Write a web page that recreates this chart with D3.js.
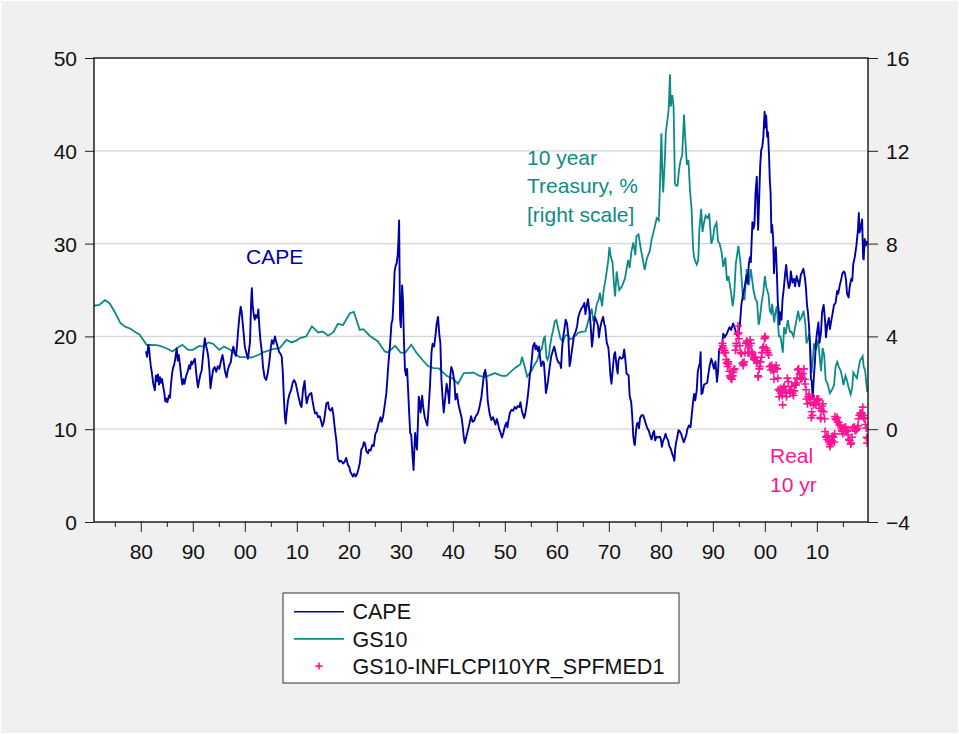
<!DOCTYPE html>
<html>
<head>
<meta charset="utf-8">
<script src="https://cdn.jsdelivr.net/npm/d3@7"></script>
<style>
body { margin: 0; background: #fff; }
svg { display: block; font-family: "Liberation Sans", Arial, sans-serif; }
.axis path { display: none; }
.axis line { stroke: #222; }
.axis text { font-size: 21px; fill: #111; }
</style>
</head>
<body>
<svg width="959" height="734"></svg>
<script>

// CAPE (left scale), [year, value]
var cape = [
[1881.0,18.4],[1881.2,17.8],[1881.45,19.1],[1881.6,18.6],[1881.9,16.9],[1882.1,16.2],[1882.4,14.9],[1882.7,14.2],
[1882.9,15.8],[1883.1,15.2],[1883.3,15.9],[1883.5,14.8],[1883.7,15.6],[1883.9,15.0],[1884.1,15.4],[1884.3,14.6],
[1884.5,14.0],[1884.7,13.0],[1884.9,13.3],[1885.1,12.9],[1885.4,13.6],[1885.6,13.4],[1885.8,14.8],[1886.0,15.9],
[1886.2,16.6],[1886.4,16.9],[1886.6,17.5],[1886.9,18.7],[1887.1,17.4],[1887.3,18.0],[1887.5,17.1],[1887.8,15.5],
[1888.0,14.8],[1888.2,15.4],[1888.4,14.9],[1888.7,15.7],[1889.0,16.2],[1889.3,16.9],[1889.5,16.5],[1889.7,17.3],
[1889.9,17.0],[1890.2,17.4],[1890.4,17.6],[1890.6,16.4],[1890.8,15.3],[1891.0,14.5],[1891.2,15.2],[1891.5,16.0],
[1891.7,16.3],[1892.0,18.1],[1892.3,19.8],[1892.5,19.1],[1892.8,18.4],[1893.0,17.7],[1893.2,16.3],[1893.4,14.4],
[1893.6,15.3],[1893.9,16.4],[1894.2,16.7],[1894.5,16.2],[1894.8,16.8],[1895.1,16.5],[1895.4,17.3],[1895.7,18.0],
[1895.9,17.4],[1896.2,16.2],[1896.5,15.6],[1896.7,16.3],[1897.0,16.9],[1897.3,17.2],[1897.6,18.5],[1897.8,18.9],
[1898.1,18.1],[1898.3,17.9],[1898.5,19.0],[1898.7,20.5],[1898.9,21.8],[1899.2,23.2],[1899.4,22.6],[1899.6,21.4],
[1899.8,20.2],[1900.0,18.9],[1900.3,18.2],[1900.6,17.6],[1900.8,18.5],[1901.0,19.4],[1901.2,23.5],[1901.35,25.2],
[1901.5,23.4],[1901.7,22.4],[1901.9,21.8],[1902.1,22.3],[1902.4,22.0],[1902.6,22.9],[1902.8,21.0],[1903.0,19.6],
[1903.3,18.2],[1903.5,16.7],[1903.8,15.6],[1904.1,15.3],[1904.4,16.0],[1904.7,17.2],[1905.0,18.8],[1905.2,19.6],
[1905.5,19.2],[1905.8,20.0],[1906.0,19.5],[1906.3,18.9],[1906.6,18.3],[1906.9,18.1],[1907.1,17.8],[1907.3,16.2],
[1907.5,13.5],[1907.7,11.4],[1907.85,10.6],[1908.0,11.5],[1908.3,13.1],[1908.6,13.8],[1908.9,14.2],[1909.2,15.0],
[1909.5,15.3],[1909.8,14.9],[1910.1,14.1],[1910.4,13.3],[1910.7,12.6],[1910.9,12.4],[1911.2,14.3],[1911.5,15.2],
[1911.7,13.7],[1911.9,12.8],[1912.2,13.5],[1912.5,13.8],[1912.8,13.9],[1913.0,13.1],[1913.3,12.2],[1913.5,11.7],
[1913.8,11.8],[1914.1,11.3],[1914.4,11.4],[1914.7,10.8],[1914.9,10.3],[1915.2,10.8],[1915.5,12.0],[1915.7,12.8],
[1916.0,12.9],[1916.2,12.2],[1916.5,12.0],[1916.8,12.3],[1917.0,11.7],[1917.3,10.1],[1917.6,8.8],[1917.9,6.8],
[1918.2,6.5],[1918.5,6.6],[1918.9,6.3],[1919.2,6.5],[1919.5,6.9],[1919.8,6.2],[1920.1,5.9],[1920.3,5.4],
[1920.6,5.1],[1920.8,4.9],[1921.0,5.2],[1921.3,4.9],[1921.6,5.2],[1921.8,5.6],[1922.1,6.3],[1922.4,7.8],
[1922.7,8.1],[1922.9,8.6],[1923.1,8.5],[1923.4,7.6],[1923.7,7.4],[1923.9,7.8],[1924.2,7.7],[1924.5,8.3],
[1924.8,8.2],[1925.1,9.5],[1925.4,9.8],[1925.7,10.6],[1925.9,10.9],[1926.1,11.3],[1926.3,10.8],[1926.6,11.4],
[1926.9,12.6],[1927.2,13.8],[1927.4,15.3],[1927.6,17.0],[1927.9,18.9],[1928.2,21.4],[1928.4,21.8],[1928.6,24.0],
[1928.8,27.0],[1929.0,27.6],[1929.2,27.9],[1929.4,28.8],[1929.55,30.5],[1929.67,32.5],[1929.75,27.5],[1929.85,22.0],
[1930.0,21.0],[1930.25,25.5],[1930.4,24.0],[1930.6,19.5],[1930.8,16.4],[1931.0,15.8],[1931.2,16.5],[1931.4,14.2],
[1931.6,11.8],[1931.8,9.6],[1932.0,9.4],[1932.2,7.5],[1932.45,5.6],[1932.6,7.9],[1932.75,9.6],[1932.9,8.5],
[1933.1,7.8],[1933.3,10.8],[1933.45,13.5],[1933.6,13.1],[1933.8,11.8],[1934.1,13.6],[1934.3,12.4],[1934.6,11.3],
[1934.8,10.9],[1935.1,10.4],[1935.3,11.9],[1935.6,14.6],[1935.9,18.3],[1936.1,19.2],[1936.4,18.9],[1936.7,20.3],
[1936.9,21.4],[1937.15,22.1],[1937.4,20.2],[1937.6,19.3],[1937.8,15.4],[1938.0,13.6],[1938.25,11.8],[1938.5,13.2],
[1938.8,14.9],[1939.1,13.9],[1939.3,12.8],[1939.5,15.7],[1939.7,16.7],[1940.0,16.2],[1940.3,15.1],[1940.5,13.2],
[1940.8,13.8],[1941.1,12.6],[1941.4,11.9],[1941.7,11.2],[1941.9,10.3],[1942.1,9.2],[1942.3,8.5],[1942.6,9.2],
[1942.9,9.9],[1943.2,10.6],[1943.5,11.4],[1943.8,10.8],[1944.1,10.9],[1944.4,11.4],[1944.8,11.7],[1945.1,12.3],
[1945.5,13.5],[1945.8,15.0],[1946.0,16.0],[1946.25,16.4],[1946.5,15.2],[1946.7,13.1],[1946.9,12.3],[1947.1,11.6],
[1947.4,11.0],[1947.7,11.3],[1947.9,11.0],[1948.2,10.5],[1948.45,11.1],[1948.7,10.6],[1948.9,10.0],[1949.2,9.6],
[1949.45,9.1],[1949.7,9.6],[1950.0,10.3],[1950.3,10.7],[1950.5,10.2],[1950.7,11.0],[1951.0,11.8],[1951.3,12.1],
[1951.6,12.0],[1951.9,12.4],[1952.2,12.2],[1952.5,12.5],[1952.8,12.4],[1953.0,12.9],[1953.3,11.9],[1953.7,11.2],
[1953.9,11.6],[1954.2,12.6],[1954.4,13.5],[1954.6,14.5],[1954.8,15.8],[1955.0,16.5],[1955.2,17.6],[1955.4,18.9],
[1955.7,19.3],[1955.9,18.6],[1956.1,19.0],[1956.4,18.4],[1956.6,18.9],[1956.8,17.6],[1957.0,16.8],[1957.3,17.3],
[1957.5,17.2],[1957.7,15.7],[1957.9,13.9],[1958.1,14.5],[1958.3,15.2],[1958.6,16.6],[1958.9,17.8],[1959.2,18.4],
[1959.5,18.9],[1959.7,18.4],[1960.0,17.6],[1960.3,17.2],[1960.6,17.1],[1960.8,16.6],[1961.0,18.6],[1961.2,19.9],
[1961.4,20.6],[1961.7,21.8],[1961.95,21.4],[1962.2,20.1],[1962.45,16.8],[1962.6,17.2],[1962.8,18.1],[1963.0,18.9],
[1963.3,20.1],[1963.6,20.5],[1963.9,21.1],[1964.1,22.0],[1964.4,22.6],[1964.7,23.0],[1965.0,23.2],[1965.3,23.6],
[1965.5,22.4],[1965.8,23.5],[1966.0,24.0],[1966.2,23.0],[1966.5,21.2],[1966.75,18.9],[1966.9,19.6],[1967.1,21.0],
[1967.3,22.1],[1967.6,21.7],[1967.9,21.2],[1968.1,19.9],[1968.3,20.8],[1968.6,21.6],[1968.9,22.1],[1969.1,21.4],
[1969.3,21.0],[1969.6,19.3],[1969.9,18.8],[1970.1,17.5],[1970.3,15.8],[1970.5,14.9],[1970.7,16.1],[1971.0,18.0],
[1971.2,18.3],[1971.5,16.7],[1971.7,16.0],[1971.85,17.4],[1972.1,17.8],[1972.4,17.6],[1972.7,17.7],[1972.95,18.6],
[1973.2,17.3],[1973.4,16.0],[1973.6,15.9],[1973.8,15.8],[1974.0,13.6],[1974.3,12.9],[1974.5,11.4],[1974.7,9.2],
[1974.9,8.4],[1975.0,8.3],[1975.2,9.7],[1975.4,10.6],[1975.6,10.7],[1975.8,10.1],[1976.0,11.2],[1976.3,11.5],
[1976.6,11.5],[1976.9,11.0],[1977.1,10.6],[1977.4,10.1],[1977.7,9.8],[1977.9,9.4],[1978.2,8.9],[1978.5,9.6],
[1978.7,9.8],[1978.9,8.8],[1979.2,9.2],[1979.5,9.1],[1979.8,9.2],[1980.0,8.9],[1980.2,8.1],[1980.4,8.7],
[1980.7,9.1],[1980.9,9.5],[1981.1,9.1],[1981.4,8.8],[1981.6,8.2],[1981.9,7.9],[1982.1,7.5],[1982.4,7.0],
[1982.6,6.6],[1982.75,7.8],[1982.9,8.5],[1983.1,9.0],[1983.4,9.9],[1983.6,9.8],[1983.9,9.5],[1984.1,9.1],
[1984.4,8.6],[1984.6,8.9],[1984.9,9.4],[1985.1,10.0],[1985.4,10.4],[1985.7,10.2],[1985.9,11.3],[1986.2,13.0],
[1986.4,13.8],[1986.6,13.1],[1986.9,14.2],[1987.1,16.2],[1987.3,16.7],[1987.5,17.1],[1987.65,18.3],[1987.8,13.8],
[1988.0,13.9],[1988.3,14.8],[1988.6,14.9],[1988.9,15.0],[1989.1,15.8],[1989.4,16.9],[1989.7,17.6],[1989.9,17.2],
[1990.2,16.5],[1990.5,17.3],[1990.8,15.1],[1991.0,16.3],[1991.2,18.6],[1991.5,18.8],[1991.8,19.1],[1992.0,20.3],
[1992.3,19.9],[1992.6,20.2],[1992.9,20.6],[1993.2,21.0],[1993.5,20.7],[1993.9,21.4],[1994.2,20.9],[1994.6,20.1],
[1994.9,20.3],[1995.2,21.3],[1995.5,23.5],[1995.8,24.5],[1996.1,25.3],[1996.5,26.6],[1996.7,25.7],[1996.9,27.7],
[1997.1,28.5],[1997.3,28.0],[1997.6,32.3],[1997.8,31.6],[1998.0,32.1],[1998.2,35.5],[1998.45,37.2],[1998.7,31.5],
[1998.9,34.8],[1999.1,38.4],[1999.3,40.1],[1999.5,40.4],[1999.7,41.5],[1999.95,44.2],[2000.1,42.5],[2000.25,43.8],
[2000.45,41.5],[2000.6,42.0],[2000.8,39.5],[2000.95,36.8],[2001.1,35.5],[2001.25,31.2],[2001.4,32.0],[2001.6,30.5],
[2001.75,26.8],[2001.9,28.9],[2002.1,29.6],[2002.3,27.0],[2002.5,23.5],[2002.7,22.5],[2002.8,21.3],[2003.0,22.6],
[2003.2,21.8],[2003.4,24.0],[2003.7,25.5],[2003.9,26.8],[2004.1,27.7],[2004.3,26.3],[2004.6,25.2],[2004.8,25.5],
[2005.0,27.0],[2005.3,25.8],[2005.6,26.2],[2005.8,25.4],[2006.1,26.5],[2006.4,25.9],[2006.6,25.4],[2006.9,26.6],
[2007.2,27.0],[2007.4,27.3],[2007.7,26.3],[2007.9,25.2],[2008.1,23.4],[2008.3,22.5],[2008.5,21.0],[2008.7,18.5],
[2008.85,15.4],[2009.0,15.2],[2009.2,13.3],[2009.4,15.5],[2009.6,17.0],[2009.8,19.2],[2010.0,20.3],[2010.3,21.5],
[2010.5,19.3],[2010.8,20.5],[2011.0,22.6],[2011.3,23.4],[2011.6,21.5],[2011.75,19.9],[2012.0,21.2],[2012.3,22.0],
[2012.5,20.8],[2012.8,21.8],[2013.0,22.4],[2013.3,23.4],[2013.6,23.6],[2013.9,24.9],[2014.1,24.6],[2014.4,25.5],
[2014.7,26.2],[2014.9,26.8],[2015.2,27.0],[2015.4,26.8],[2015.6,26.1],[2015.8,24.6],[2016.1,24.2],[2016.3,25.3],
[2016.6,26.2],[2016.8,26.0],[2017.0,27.8],[2017.3,28.6],[2017.6,29.8],[2017.9,31.5],[2018.07,33.3],[2018.2,31.2],
[2018.4,31.6],[2018.7,32.6],[2018.9,28.4],[2019.0,28.3],[2019.2,30.5],[2019.4,29.8],[2019.6,30.0],[2019.75,30.3]
];

// GS10 (right scale), [year, percent]
var gs10 = [
[1871.0,5.32],[1872.0,5.36],[1873.1,5.56],[1874.0,5.43],[1875.0,5.05],[1876.1,4.57],[1877.0,4.42],[1878.0,4.33],
[1879.0,4.18],[1879.8,4.07],[1881.1,3.64],[1882.0,3.63],[1883.0,3.62],[1883.7,3.59],[1884.9,3.49],[1886.1,3.35],
[1887.0,3.50],[1888.0,3.64],[1889.1,3.42],[1890.0,3.42],[1891.2,3.59],[1892.0,3.56],[1893.0,3.74],[1893.9,3.68],
[1895.1,3.42],[1896.0,3.56],[1897.0,3.45],[1897.8,3.31],[1899.0,3.11],[1900.0,3.11],[1901.3,3.09],[1902.4,3.18],
[1903.5,3.31],[1905.4,3.45],[1906.7,3.49],[1908.0,3.85],[1909.0,3.74],[1910.0,3.83],[1910.6,3.93],[1911.8,4.00],
[1912.9,4.43],[1914.1,4.17],[1915.0,4.21],[1916.0,4.03],[1917.0,4.17],[1917.9,4.54],[1918.9,4.49],[1920.2,5.00],
[1920.96,5.06],[1922.1,4.28],[1922.8,4.31],[1924.0,4.03],[1925.6,3.78],[1926.9,3.35],[1927.5,3.31],[1928.9,3.59],
[1930.0,3.29],[1930.9,3.31],[1932.0,3.64],[1933.0,3.30],[1934.3,2.95],[1935.2,2.72],[1936.3,2.63],[1937.3,2.62],
[1938.8,2.30],[1940.0,2.18],[1941.0,1.96],[1942.1,2.42],[1944.0,2.44],[1945.1,2.30],[1946.2,2.25],[1948.1,2.42],
[1949.4,2.30],[1950.3,2.30],[1951.9,2.63],[1953.0,2.80],[1953.3,3.11],[1953.5,2.95],[1953.8,2.71],[1954.3,2.27],
[1954.7,2.40],[1955.1,2.50],[1955.7,2.78],[1956.2,2.95],[1956.7,3.35],[1957.1,3.45],[1957.5,3.93],[1957.7,3.98],
[1958.0,3.10],[1958.2,2.99],[1958.5,3.20],[1958.7,3.60],[1959.0,4.00],[1959.3,4.30],[1959.6,4.64],[1959.9,4.70],
[1960.1,4.50],[1960.4,4.20],[1960.7,3.90],[1960.9,3.85],[1961.2,3.78],[1961.6,4.03],[1961.9,4.06],[1962.2,4.04],
[1962.5,3.88],[1962.9,3.90],[1963.3,4.00],[1963.7,4.05],[1964.0,4.14],[1964.5,4.18],[1965.0,4.21],[1965.5,4.22],
[1965.9,4.55],[1966.2,4.80],[1966.7,5.20],[1967.0,4.65],[1967.3,4.90],[1967.7,5.40],[1968.0,5.55],[1968.3,5.88],
[1968.7,5.30],[1969.0,6.00],[1969.4,6.50],[1969.9,7.30],[1970.1,7.85],[1970.4,7.40],[1970.7,7.20],[1971.0,6.20],
[1971.2,5.72],[1971.5,6.80],[1971.8,6.30],[1972.0,6.00],[1972.5,6.15],[1973.1,6.50],[1973.7,7.30],[1974.0,6.95],
[1974.3,7.60],[1974.7,8.05],[1975.1,7.50],[1975.3,8.31],[1975.7,8.40],[1976.2,7.70],[1976.9,6.87],[1977.3,7.35],
[1977.9,7.70],[1978.2,8.16],[1978.7,8.60],[1979.2,9.10],[1979.6,9.00],[1979.8,10.30],[1980.1,12.76],[1980.3,11.00],
[1980.45,10.20],[1980.8,11.80],[1980.95,12.80],[1981.3,13.40],[1981.5,13.80],[1981.75,15.30],[1981.9,13.90],[1982.2,14.40],
[1982.45,13.90],[1982.7,10.60],[1982.9,10.50],[1983.2,10.50],[1983.5,11.20],[1983.8,11.60],[1984.1,11.80],[1984.45,13.56],
[1984.7,12.50],[1985.0,11.40],[1985.3,11.60],[1985.6,10.30],[1985.9,9.50],[1986.2,7.80],[1986.4,7.40],[1986.7,7.20],
[1986.9,7.10],[1987.2,7.30],[1987.4,8.60],[1987.75,9.50],[1988.0,8.50],[1988.3,8.90],[1988.6,9.20],[1989.0,9.10],
[1989.3,9.30],[1989.7,8.00],[1990.0,8.20],[1990.3,8.70],[1990.7,8.90],[1991.0,8.10],[1991.3,8.00],[1991.7,7.60],
[1992.0,7.00],[1992.4,7.40],[1992.7,6.40],[1993.0,6.60],[1993.5,5.90],[1993.8,5.30],[1994.1,5.80],[1994.4,7.10],
[1994.9,7.90],[1995.3,7.20],[1995.8,5.60],[1996.1,5.60],[1996.5,6.90],[1996.9,6.20],[1997.3,6.90],[1997.8,6.00],
[1998.2,5.60],[1998.5,5.50],[1998.8,4.50],[1999.0,4.70],[1999.4,5.50],[1999.7,5.90],[2000.0,6.60],[2000.3,6.10],
[2000.7,5.80],[2000.95,5.10],[2001.2,5.00],[2001.4,5.40],[2001.8,4.60],[2002.0,5.00],[2002.3,5.30],[2002.7,4.00],
[2003.0,4.00],[2003.45,3.30],[2003.7,4.40],[2004.0,4.10],[2004.4,4.70],[2004.8,4.20],[2005.1,4.20],[2005.5,4.00],
[2005.9,4.50],[2006.4,5.10],[2006.7,4.70],[2007.0,4.80],[2007.45,5.10],[2007.8,4.50],[2008.0,3.70],[2008.3,3.90],
[2008.5,4.10],[2008.7,3.80],[2008.95,2.40],[2009.2,2.90],[2009.45,3.70],[2009.8,3.40],[2010.25,3.85],[2010.5,3.20],
[2010.8,2.50],[2011.1,3.50],[2011.4,3.20],[2011.7,2.10],[2012.0,2.00],[2012.5,1.55],[2012.9,1.70],[2013.3,1.90],
[2013.6,2.70],[2013.9,2.90],[2014.2,2.70],[2014.6,2.50],[2014.9,2.20],[2015.1,1.90],[2015.5,2.30],[2015.8,2.10],
[2016.1,1.80],[2016.5,1.50],[2016.8,1.80],[2017.0,2.45],[2017.4,2.30],[2017.7,2.20],[2018.0,2.60],[2018.3,2.95],
[2018.8,3.15],[2019.0,2.70],[2019.3,2.50],[2019.5,2.00],[2019.7,1.60],[2019.8,1.75]
];

// GS10 less SPF median 10yr CPI inflation expectation (right scale)
var real10 = [
[1991.75,3.4],[1991.83,3.7],[1991.92,3.6],
[1992.0,3.5],[1992.17,3.3],[1992.25,3.4],[1992.42,3.3],[1992.58,3.0],[1992.67,2.85],[1992.83,2.7],[1992.92,2.9],
[1993.0,2.8],[1993.17,2.5],[1993.25,2.3],[1993.42,2.2],[1993.5,2.25],[1993.67,2.15],[1993.83,2.3],[1993.92,2.45],
[1994.0,2.55],[1994.17,2.6],[1994.33,3.4],[1994.5,3.7],[1994.58,3.6],[1994.75,4.1],[1994.83,4.45],[1994.92,4.15],
[1995.0,3.9],[1995.17,3.6],[1995.33,3.3],[1995.5,3.25],[1995.67,2.85],[1995.83,2.75],[1995.92,2.8],
[1996.0,2.9],[1996.17,3.3],[1996.33,3.7],[1996.5,3.8],[1996.58,3.75],[1996.75,3.3],[1996.83,3.5],[1996.92,3.3],
[1997.0,3.6],[1997.17,3.85],[1997.33,3.7],[1997.42,3.35],[1997.58,3.3],[1997.67,3.2],[1997.83,3.1],[1997.92,3.0],
[1998.0,3.05],[1998.17,3.1],[1998.33,2.95],[1998.5,2.85],[1998.67,2.3],[1998.75,2.25],[1998.92,2.6],
[1999.0,2.7],[1999.17,2.9],[1999.33,3.1],[1999.42,3.3],[1999.58,3.5],[1999.75,3.55],[1999.92,3.9],
[2000.0,4.0],[2000.08,3.95],[2000.25,3.5],[2000.42,3.4],[2000.58,3.3],[2000.75,3.2],[2000.92,2.7],
[2001.0,2.7],[2001.17,2.55],[2001.33,2.75],[2001.5,2.6],[2001.67,2.5],[2001.75,2.15],[2001.92,2.6],
[2002.0,2.65],[2002.17,2.75],[2002.33,2.6],[2002.5,2.2],[2002.58,1.7],[2002.75,1.4],[2002.92,1.65],
[2003.0,1.75],[2003.17,1.55],[2003.33,1.45],[2003.42,1.05],[2003.58,1.8],[2003.75,1.85],[2003.92,1.7],
[2004.0,1.6],[2004.17,1.4],[2004.33,2.2],[2004.5,2.05],[2004.67,1.7],[2004.83,1.55],[2004.92,1.6],
[2005.0,1.7],[2005.17,1.85],[2005.33,1.55],[2005.5,1.45],[2005.67,1.65],[2005.83,2.0],[2005.92,1.9],
[2006.0,1.95],[2006.17,2.2],[2006.33,2.55],[2006.5,2.6],[2006.67,2.4],[2006.83,2.15],[2006.92,2.2],
[2007.0,2.35],[2007.17,2.2],[2007.33,2.4],[2007.5,2.6],[2007.67,2.15],[2007.75,1.95],[2007.92,1.7],
[2008.0,1.3],[2008.17,1.1],[2008.33,1.4],[2008.5,1.5],[2008.67,1.35],[2008.83,1.15],[2008.92,0.5],
[2009.0,0.75],[2009.17,0.6],[2009.33,1.05],[2009.5,1.3],[2009.67,1.1],[2009.83,1.05],[2009.92,1.2],
[2010.0,1.3],[2010.17,1.25],[2010.33,1.3],[2010.5,0.9],[2010.67,0.5],[2010.75,0.45],[2010.92,0.8],
[2011.0,1.0],[2011.17,1.1],[2011.33,0.75],[2011.5,0.45],[2011.58,-0.1],[2011.75,-0.35],[2011.92,-0.3],
[2012.0,-0.45],[2012.17,-0.3],[2012.33,-0.55],[2012.5,-0.75],[2012.58,-0.65],[2012.75,-0.55],[2012.92,-0.5],
[2013.0,-0.3],[2013.17,-0.35],[2013.33,-0.55],[2013.42,-0.2],[2013.5,0.55],[2013.58,0.45],[2013.75,0.4],[2013.92,0.5],
[2014.0,0.3],[2014.17,0.3],[2014.33,0.2],[2014.5,0.15],[2014.67,0.05],[2014.83,-0.05],[2014.92,-0.1],
[2015.0,-0.2],[2015.17,-0.05],[2015.33,0.05],[2015.5,0.1],[2015.58,-0.05],[2015.75,-0.1],[2015.92,-0.05],
[2016.0,-0.25],[2016.17,-0.45],[2016.33,-0.5],[2016.5,-0.65],[2016.58,-0.6],[2016.75,-0.35],[2016.92,0.05],
[2017.0,0.05],[2017.17,0.1],[2017.33,-0.05],[2017.5,-0.05],[2017.67,0.0],[2017.83,0.05],[2017.92,0.15],
[2018.0,0.45],[2018.17,0.6],[2018.33,0.7],[2018.5,0.65],[2018.67,0.7],[2018.83,0.95],[2018.92,0.6],
[2019.0,0.5],[2019.17,0.45],[2019.33,0.2],[2019.5,0.05],[2019.58,-0.35],[2019.67,-0.6],[2019.75,-0.4]
];

var leftTicks = [0, 10, 20, 30, 40, 50],
rightTicks = [-4, 0, 4, 8, 12, 16],
decadeTicks = d3.range(1880, 2011, 10),
halfTicks = d3.range(1875, 2016, 10),
legendNames = ["CAPE", "GS10", "GS10-INFLCPI10YR_SPFMED1"];

var svg = d3.select("svg"),
plot = {left: 94, right: 868, top: 58, bottom: 522},
capeColor = "#0000a8",
gsColor = "#0e8a86",
realColor = "#ff1493";

var x = d3.scaleLinear().domain([1871.0, 2019.83]).range([plot.left, plot.right]),
yL = d3.scaleLinear().domain([0, 50]).range([plot.bottom, plot.top]),
yR = d3.scaleLinear().domain([-4, 16]).range([plot.bottom, plot.top]);

svg.append("rect")
	.attr("x", 1).attr("y", 1)
	.attr("width", 957).attr("height", 732)
	.attr("fill", "#f0f0f0");

svg.append("rect")
	.attr("x", plot.left).attr("y", plot.top)
	.attr("width", plot.right - plot.left)
	.attr("height", plot.bottom - plot.top)
	.attr("fill", "#fff");

svg.append("defs").append("clipPath")
	.attr("id", "clip")
	.append("rect")
	.attr("x", plot.left).attr("y", plot.top)
	.attr("width", plot.right - plot.left)
	.attr("height", plot.bottom - plot.top);

// grid lines
svg.append("g")
	.selectAll("line")
	.data(leftTicks.filter(function (d) { return d > 0 && d < 50; }))
	.enter().append("line")
	.attr("x1", plot.left).attr("x2", plot.right)
	.attr("y1", function (d) { return yL(d); })
	.attr("y2", function (d) { return yL(d); })
	.attr("stroke", "#d4d4d4")
	.attr("stroke-width", 1.2);

// axes
svg.append("g")
	.attr("class", "axis")
	.attr("transform", "translate(" + plot.left + ",0)")
	.call(d3.axisLeft(yL).tickValues(leftTicks).tickSize(9).tickPadding(8))
	.selectAll("text").attr("dy", "0.36em");

svg.append("g")
	.attr("class", "axis")
	.attr("transform", "translate(" + plot.right + ",0)")
	.call(d3.axisRight(yR).tickValues(rightTicks).tickSize(10).tickPadding(8))
	.selectAll("text").attr("dy", "0.36em");

svg.append("g")
	.attr("class", "axis")
	.attr("transform", "translate(0," + plot.bottom + ")")
	.call(d3.axisBottom(x).tickValues(decadeTicks).tickSize(10).tickPadding(12)
		.tickFormat(function (d) { return String(d).slice(2); }));

svg.append("g")
	.attr("class", "axis")
	.attr("transform", "translate(0," + plot.bottom + ")")
	.call(d3.axisBottom(x).tickValues(halfTicks).tickSize(5).tickFormat(""));

var chart = svg.append("g").attr("clip-path", "url(#clip)");

var capeLine = d3.line()
	.x(function (d) { return x(d[0]); })
	.y(function (d) { return yL(d[1]); });

var gsLine = d3.line()
	.x(function (d) { return x(d[0]); })
	.y(function (d) { return yR(d[1]); });

chart.append("path")
	.datum(gs10)
	.attr("fill", "none")
	.attr("stroke", gsColor)
	.attr("stroke-width", 1.8)
	.attr("d", gsLine);

chart.append("path")
	.datum(cape)
	.attr("fill", "none")
	.attr("stroke", capeColor)
	.attr("stroke-width", 1.9)
	.attr("stroke-linejoin", "round")
	.attr("d", capeLine);

var plus = "M-4,0H4M0,-4V4";

chart.append("g")
	.selectAll("path")
	.data(real10)
	.enter().append("path")
	.attr("transform", function (d) { return "translate(" + x(d[0]) + "," + yR(d[1]) + ")"; })
	.attr("d", plus)
	.attr("stroke", realColor)
	.attr("stroke-width", 1.6);

// frame
svg.append("rect")
	.attr("x", plot.left).attr("y", plot.top)
	.attr("width", plot.right - plot.left)
	.attr("height", plot.bottom - plot.top)
	.attr("fill", "none")
	.attr("stroke", "#111")
	.attr("stroke-width", 1.4);

// annotations
var notes = svg.append("g").style("font-size", "21px");

notes.append("text").attr("x", 246).attr("y", 264).attr("fill", capeColor).text("CAPE");

notes.selectAll(".gs")
	.data(["10 year", "Treasury, %", "[right scale]"])
	.enter().append("text")
	.attr("x", 527)
	.attr("y", function (d, i) { return 165 + i * 28.3; })
	.attr("fill", gsColor)
	.text(function (d) { return d; });

notes.selectAll(".re")
	.data(["Real", "10 yr"])
	.enter().append("text")
	.attr("x", 770)
	.attr("y", function (d, i) { return 463 + i * 28.5; })
	.attr("fill", realColor)
	.text(function (d) { return d; });

// legend
var legend = svg.append("g");

legend.append("rect")
	.attr("x", 283).attr("y", 593)
	.attr("width", 396).attr("height", 90)
	.attr("fill", "#fff")
	.attr("stroke", "#333")
	.attr("stroke-width", 1);

var rows = legend.selectAll(".row")
	.data(legendNames)
	.enter().append("g")
	.attr("transform", function (d, i) { return "translate(0," + (611.7 + i * 27.2) + ")"; });

rows.filter(function (d, i) { return i < 2; })
	.append("line")
	.attr("x1", 294).attr("x2", 344)
	.attr("stroke", function (d, i) { return i == 0 ? capeColor : gsColor; })
	.attr("stroke-width", 1.6);

rows.filter(function (d, i) { return i == 2; })
	.append("path")
	.attr("transform", "translate(319,0)")
	.attr("d", "M-3.5,0H3.5M0,-3.5V3.5")
	.attr("stroke", realColor)
	.attr("stroke-width", 1.6);

rows.append("text")
	.attr("x", 352.5)
	.attr("dy", "0.36em")
	.style("font-size", "21.5px")
	.attr("fill", "#111")
	.text(function (d) { return d; });

</script>
</body>
</html>
